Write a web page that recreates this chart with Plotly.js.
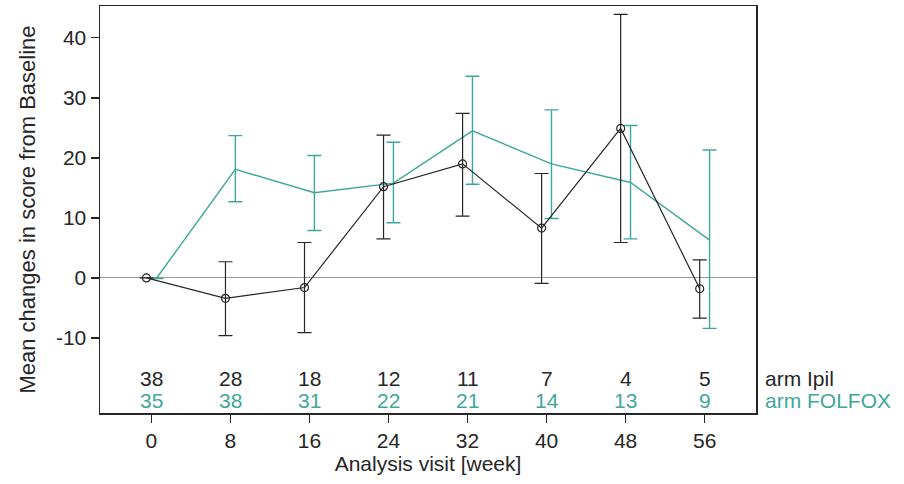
<!DOCTYPE html>
<html>
<head>
<meta charset="utf-8">
<script src="https://cdn.plot.ly/plotly-3.0.1.min.js"></script>
<style>html,body{margin:0;padding:0;background:#fff;}#chart{width:904px;height:484px;}</style>
</head>
<body>
<div id="chart"></div>
<script>
// Data
const weeks = [0, 8, 16, 24, 32, 40, 48, 56];
const ipilMean  = [0, -3.4, -1.6, 15.2, 19.0, 8.3, 24.9, -1.8];
const ipilUpper = [null, 2.7, 5.9, 23.8, 27.4, 17.4, 43.9, 3.0];
const ipilLower = [null, -9.6, -9.1, 6.5, 10.3, -0.9, 5.9, -6.7];
const folMean  = [-0.1, 18.1, 14.2, 15.8, 24.5, 19.0, 15.9, 6.3];
const folUpper = [null, 23.7, 20.4, 22.6, 33.6, 28.0, 25.4, 21.3];
const folLower = [null, 12.7, 7.9, 9.2, 15.6, 9.9, 6.5, -8.4];
const ipilN = [38, 28, 18, 12, 11, 7, 4, 5];
const folN  = [35, 38, 31, 22, 21, 14, 13, 9];
const armLabels = ["arm Ipil", "arm FOLFOX"];
const yTicks = [-10, 0, 10, 20, 30, 40];
const yTickText = ["-10", "0", "10", "20", "30", "40"];

const BLACK = '#262626';
const TEAL = '#3fa79a';
const FONT = 'Liberation Sans, Arial, sans-serif';
const FS = 21;
const off = 0.5;

function plus(m, u) { return m.map((v, i) => u[i] == null ? null : u[i] - v); }
function minus(m, l) { return m.map((v, i) => l[i] == null ? null : v - l[i]); }

const traces = [
  {
    x: weeks.map(w => w + off), y: folMean, type: 'scatter', mode: 'lines',
    line: {color: TEAL, width: 1.4},
    error_y: {type: 'data', symmetric: false, array: plus(folMean, folUpper), arrayminus: minus(folMean, folLower),
              color: TEAL, thickness: 1.4, width: 7},
    hoverinfo: 'skip', showlegend: false
  },
  {
    x: weeks.map(w => w - off), y: ipilMean, type: 'scatter', mode: 'lines+markers',
    line: {color: BLACK, width: 1.2},
    marker: {symbol: 'circle-open', size: 8, color: BLACK, line: {width: 1.2, color: BLACK}},
    error_y: {type: 'data', symmetric: false, array: plus(ipilMean, ipilUpper), arrayminus: minus(ipilMean, ipilLower),
              color: BLACK, thickness: 1.2, width: 7},
    hoverinfo: 'skip', showlegend: false
  }
];

const annotations = [];
weeks.forEach((w, i) => {
  annotations.push({x: w, y: -16.8, xref: 'x', yref: 'y', text: String(ipilN[i]), showarrow: false,
                    font: {family: FONT, size: FS, color: BLACK}});
  annotations.push({x: w, y: -20.4, xref: 'x', yref: 'y', text: String(folN[i]), showarrow: false,
                    font: {family: FONT, size: FS, color: TEAL}});
});
annotations.push({x: 1.01, y: -16.8, xref: 'paper', yref: 'y', xanchor: 'left', text: armLabels[0], showarrow: false,
                  font: {family: FONT, size: FS, color: BLACK}});
annotations.push({x: 1.01, y: -20.4, xref: 'paper', yref: 'y', xanchor: 'left', text: armLabels[1], showarrow: false,
                  font: {family: FONT, size: FS, color: TEAL}});

const layout = {
  width: 904, height: 484,
  margin: {l: 100, r: 148, t: 6, b: 71},
  paper_bgcolor: '#fff', plot_bgcolor: '#fff',
  font: {family: FONT, size: FS, color: BLACK},
  xaxis: {
    range: [-5.2, 61.2], tickvals: weeks, ticks: 'outside', ticklen: 8, tickcolor: BLACK, tickwidth: 1.3,
    showgrid: false, zeroline: false, showline: true, linecolor: BLACK, linewidth: 1.5, mirror: true,
    tickfont: {family: FONT, size: FS, color: BLACK},
    title: {text: 'Analysis visit [week]', font: {family: FONT, size: FS, color: BLACK}, standoff: 4}
  },
  yaxis: {
    range: [-22.5, 45.3], tickvals: yTicks, ticktext: yTickText, ticks: 'outside', ticklen: 8, tickcolor: BLACK, tickwidth: 1.3,
    showgrid: false, zeroline: true, zerolinecolor: '#9a9a9a', zerolinewidth: 1,
    showline: true, linecolor: BLACK, linewidth: 1.5, mirror: true,
    tickfont: {family: FONT, size: FS, color: BLACK},
    title: {text: 'Mean changes in score from Baseline', font: {family: FONT, size: 22, color: BLACK}, standoff: 14}
  },
  annotations: annotations
};

Plotly.newPlot('chart', traces, layout, {staticPlot: true, displayModeBar: false});
</script>
</body>
</html>
